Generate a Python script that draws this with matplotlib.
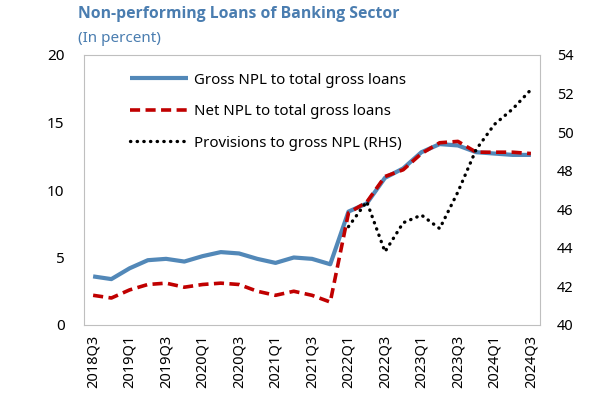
import matplotlib.pyplot as plt
import numpy as np

plt.rcParams['font.family'] = ['Noto Sans', 'DejaVu Sans']

quarters = ['2018Q3', '2018Q4', '2019Q1', '2019Q2', '2019Q3', '2019Q4',
            '2020Q1', '2020Q2', '2020Q3', '2020Q4', '2021Q1', '2021Q2',
            '2021Q3', '2021Q4', '2022Q1', '2022Q2', '2022Q3', '2022Q4',
            '2023Q1', '2023Q2', '2023Q3', '2023Q4', '2024Q1', '2024Q2',
            '2024Q3']

gross_npl = [3.6, 3.4, 4.2, 4.8, 4.9, 4.7, 5.1, 5.4, 5.3, 4.9, 4.6, 5.0,
             4.9, 4.5, 8.4, 9.0, 10.9, 11.6, 12.8, 13.4, 13.3, 12.8, 12.7,
             12.6, 12.6]
net_npl = [2.2, 2.0, 2.6, 3.0, 3.1, 2.8, 3.0, 3.1, 3.0, 2.5, 2.2, 2.5,
           2.2, 1.7, 8.3, 9.1, 11.0, 11.5, 12.7, 13.5, 13.6, 12.8, 12.8,
           12.8, 12.7]
provisions = [np.nan] * 14 + [45.1, 46.4, 43.8, 45.3, 45.7, 45.0, 46.9,
                              49.1, 50.4, 51.2, 52.2]

blue = '#5288B8'
red = '#C00000'
title_col = '#4A7DB0'

x = np.arange(len(quarters))

fig = plt.figure(figsize=(5.92, 3.98), dpi=100)
ax = fig.add_axes([84 / 592, 1 - 325 / 398, 456 / 592, 270 / 398])
ax2 = ax.twinx()

l1, = ax.plot(x, gross_npl, color=blue, lw=3.0, solid_capstyle='butt')
l2, = ax.plot(x, net_npl, color=red, lw=2.6, linestyle=(0, (2.8, 1.5)))
l3, = ax2.plot(x, provisions, color='black', lw=2.4,
               linestyle=(0, (0.1, 1.9)), dash_capstyle='round')

ax.set_xlim(-0.5, len(quarters) - 0.5)
ax.set_ylim(0, 20)
ax.set_yticks([0, 5, 10, 15, 20])
ax2.set_ylim(40, 54)
ax2.set_yticks(range(40, 55, 2))

ax.set_xticks(x[::2])
ax.set_xticklabels(quarters[::2], rotation=90)

for sp in ax.spines.values():
    sp.set_color('#BFBFBF')
for sp in ax2.spines.values():
    sp.set_visible(False)

ax.tick_params(axis='y', length=0, pad=14, labelsize=11)
ax.tick_params(axis='x', length=0, pad=7, labelsize=10.5)
ax2.tick_params(axis='y', length=0, pad=12, labelsize=10.5)

ax.legend([l1, l2, l3],
          ['Gross NPL to total gross loans', 'Net NPL to total gross loans',
           'Provisions to gross NPL (RHS)'],
          loc='upper left', bbox_to_anchor=(0.1, 0.935), frameon=False,
          fontsize=10.8, handlelength=3.9, handletextpad=0.4,
          labelspacing=1.1, borderpad=0, borderaxespad=0)

fig.text(78 / 592, 1 - 14 / 398, 'Non-performing Loans of Banking Sector',
         color=title_col, fontsize=11.3, fontweight='bold', va='center',
         family=['Open Sans', 'DejaVu Sans'])
fig.text(78 / 592, 1 - 38.5 / 398, '(In percent)', color=title_col,
         fontsize=11, va='center')

fig.savefig('out.png', dpi=100)
